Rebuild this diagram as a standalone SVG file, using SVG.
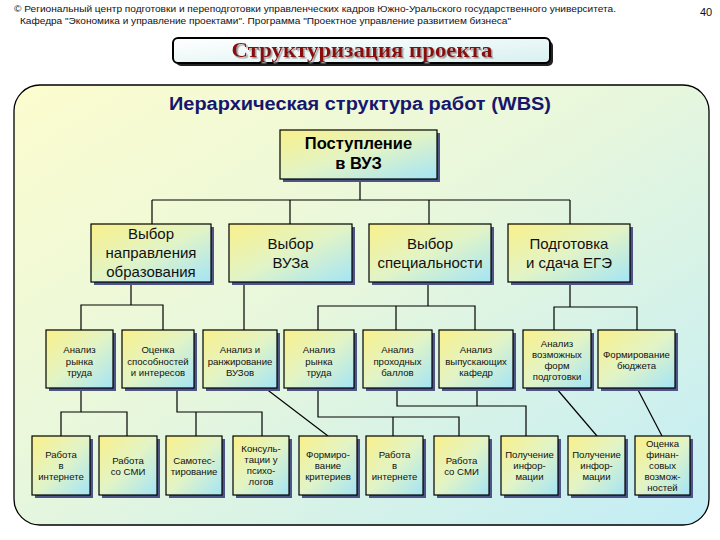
<svg xmlns="http://www.w3.org/2000/svg" width="720" height="540" viewBox="0 0 720 540">
<defs>
  <linearGradient id="pg" x1="0" y1="0" x2="1" y2="1">
    <stop offset="0" stop-color="#fcfcce"/>
    <stop offset="0.45" stop-color="#e8f7dc"/>
    <stop offset="1" stop-color="#c2edf6"/>
  </linearGradient>
  <linearGradient id="ng" x1="0" y1="0" x2="1" y2="1">
    <stop offset="0" stop-color="#f9f08a"/>
    <stop offset="0.5" stop-color="#e2f4c6"/>
    <stop offset="1" stop-color="#a4e4f6"/>
  </linearGradient>
  <linearGradient id="tg" x1="0" y1="0" x2="1" y2="1">
    <stop offset="0" stop-color="#ffffff"/>
    <stop offset="1" stop-color="#d8f0f0"/>
  </linearGradient>
  <filter id="ts" x="-5%" y="-20%" width="110%" height="150%">
    <feDropShadow dx="1.5" dy="1.5" stdDeviation="0.4" flood-color="#9a9a9a"/>
  </filter>
  <style>
    .hd{font-family:"Liberation Sans",Arial,sans-serif;font-size:9.5px;fill:#111}
    .bx{fill:url(#ng);stroke:#000;stroke-width:1.2}
    .sh{fill:#4c5488}
    .t1{font-family:"Liberation Sans",Arial,sans-serif;font-size:16.5px;font-weight:bold;fill:#000;text-anchor:middle}
    .t2{font-family:"Liberation Sans",Arial,sans-serif;font-size:15px;fill:#111;text-anchor:middle}
    .t3{font-family:"Liberation Sans",Arial,sans-serif;font-size:9.6px;fill:#111;text-anchor:middle}
    .cn line,.cn polyline{stroke:#000;stroke-width:1.2;fill:none}
  </style>
</defs>

<rect x="0" y="0" width="720" height="540" fill="#ffffff"/>

<g id="header">
  <text class="hd" x="14" y="12" textLength="602" lengthAdjust="spacingAndGlyphs">© Региональный центр подготовки и переподготовки управленческих кадров Южно-Уральского государственного университета.</text>
  <text class="hd" x="20" y="24" textLength="491" lengthAdjust="spacingAndGlyphs">Кафедра "Экономика и управление проектами". Программа "Проектное управление развитием бизнеса"</text>
  <text x="706" y="16" font-family="'Liberation Sans',Arial,sans-serif" font-size="11" fill="#111" text-anchor="middle">40</text>
</g>

<g id="title">
  <rect x="176" y="41" width="377" height="25" rx="5" fill="#222"/>
  <rect x="173" y="38" width="377" height="25" rx="5" fill="url(#tg)" stroke="#000" stroke-width="2"/>
  <text x="362" y="57" font-family="'Liberation Serif','Times New Roman',serif" font-size="21" font-weight="bold" fill="#8a0c0c" text-anchor="middle" textLength="261" lengthAdjust="spacingAndGlyphs" filter="url(#ts)">Структуризация проекта</text>
</g>

<g id="panel">
  <rect x="14" y="85" width="695" height="440" rx="26" fill="url(#pg)" stroke="#000" stroke-width="1.3"/>
  <text x="360" y="110" font-family="'Liberation Sans',Arial,sans-serif" font-size="17.5" font-weight="bold" fill="#16166e" text-anchor="middle" textLength="382" lengthAdjust="spacingAndGlyphs">Иерархическая структура работ (WBS)</text>
</g>

<g id="connectors" class="cn">
  <line x1="360" y1="179" x2="360" y2="200"/>
  <line x1="152" y1="200" x2="570" y2="200"/>
  <line x1="152" y1="200" x2="152" y2="224"/>
  <line x1="290" y1="200" x2="290" y2="224"/>
  <line x1="429" y1="200" x2="429" y2="224"/>
  <line x1="570" y1="200" x2="570" y2="224"/>

  <line x1="131" y1="282" x2="131" y2="305"/>
  <polyline points="81,330 81,305 163,305 163,330"/>
  <line x1="244" y1="282" x2="244" y2="330"/>
  <line x1="428" y1="282" x2="428" y2="306"/>
  <polyline points="318,330 318,306 475,306 475,330"/>
  <line x1="396" y1="306" x2="396" y2="330"/>
  <line x1="570" y1="282" x2="570" y2="307"/>
  <polyline points="554,330 554,307 637,307 637,330"/>

  <line x1="81" y1="388" x2="81" y2="412"/>
  <polyline points="61,436 61,412 127,412 127,436"/>
  <polyline points="177,388 177,412 262,412 262,436"/>
  <line x1="196" y1="412" x2="196" y2="436"/>
  <line x1="265" y1="388" x2="328" y2="436"/>
  <polyline points="318,388 318,417 459,417 459,436"/>
  <line x1="393" y1="417" x2="393" y2="436"/>
  <polyline points="397,388 397,406 526,406 526,436"/>
  <line x1="477" y1="388" x2="477" y2="406"/>
  <line x1="556" y1="388" x2="597" y2="436"/>
  <line x1="637" y1="388" x2="662" y2="436"/>
</g>

<g id="n0">
  <rect class="sh" x="283" y="133" width="157" height="49"/>
  <rect class="bx" x="280" y="130" width="157" height="49"/>
  <text class="t1" x="358.5" y="149">Поступление</text>
  <text class="t1" x="358.5" y="169">в ВУЗ</text>
</g>

<g id="n1">
  <rect class="sh" x="94" y="227" width="120" height="58"/>
  <rect class="bx" x="91" y="224" width="120" height="58"/>
  <text class="t2" x="151" y="239">Выбор</text>
  <text class="t2" x="151" y="258">направления</text>
  <text class="t2" x="151" y="277">образования</text>
</g>
<g id="n2">
  <rect class="sh" x="232" y="227" width="123" height="58"/>
  <rect class="bx" x="229" y="224" width="123" height="58"/>
  <text class="t2" x="290.5" y="249">Выбор</text>
  <text class="t2" x="290.5" y="268">ВУЗа</text>
</g>
<g id="n3">
  <rect class="sh" x="372" y="227" width="122" height="58"/>
  <rect class="bx" x="369" y="224" width="122" height="58"/>
  <text class="t2" x="430" y="249">Выбор</text>
  <text class="t2" x="430" y="268">специальности</text>
</g>
<g id="n4">
  <rect class="sh" x="511" y="227" width="122" height="58"/>
  <rect class="bx" x="508" y="224" width="122" height="58"/>
  <text class="t2" x="569" y="249">Подготовка</text>
  <text class="t2" x="569" y="268">и сдача ЕГЭ</text>
</g>

<g id="n1a">
  <rect class="sh" x="49" y="333" width="67" height="58"/>
  <rect class="bx" x="46" y="330" width="67" height="58"/>
  <text class="t3" x="79.5" y="353">Анализ</text>
  <text class="t3" x="79.5" y="364.5">рынка</text>
  <text class="t3" x="79.5" y="376">труда</text>
</g>
<g id="n1b">
  <rect class="sh" x="125" y="333" width="72" height="58"/>
  <rect class="bx" x="122" y="330" width="72" height="58"/>
  <text class="t3" x="158" y="353">Оценка</text>
  <text class="t3" x="158" y="364.5">способностей</text>
  <text class="t3" x="158" y="376">и интересов</text>
</g>
<g id="n2a">
  <rect class="sh" x="206" y="333" width="74" height="58"/>
  <rect class="bx" x="203" y="330" width="74" height="58"/>
  <text class="t3" x="240" y="353">Анализ и</text>
  <text class="t3" x="240" y="364.5">ранжирование</text>
  <text class="t3" x="240" y="376">ВУЗов</text>
</g>
<g id="n3a">
  <rect class="sh" x="287" y="333" width="70" height="58"/>
  <rect class="bx" x="284" y="330" width="70" height="58"/>
  <text class="t3" x="319" y="353">Анализ</text>
  <text class="t3" x="319" y="364.5">рынка</text>
  <text class="t3" x="319" y="376">труда</text>
</g>
<g id="n3b">
  <rect class="sh" x="366" y="333" width="69" height="58"/>
  <rect class="bx" x="363" y="330" width="69" height="58"/>
  <text class="t3" x="397.5" y="353">Анализ</text>
  <text class="t3" x="397.5" y="364.5">проходных</text>
  <text class="t3" x="397.5" y="376">баллов</text>
</g>
<g id="n3c">
  <rect class="sh" x="442" y="333" width="74" height="58"/>
  <rect class="bx" x="439" y="330" width="74" height="58"/>
  <text class="t3" x="476" y="353">Анализ</text>
  <text class="t3" x="476" y="364.5">выпускающих</text>
  <text class="t3" x="476" y="376">кафедр</text>
</g>
<g id="n4a">
  <rect class="sh" x="526" y="333" width="68" height="58"/>
  <rect class="bx" x="523" y="330" width="68" height="58"/>
  <text class="t3" x="557" y="347">Анализ</text>
  <text class="t3" x="557" y="358">возможных</text>
  <text class="t3" x="557" y="369">форм</text>
  <text class="t3" x="557" y="380">подготовки</text>
</g>
<g id="n4b">
  <rect class="sh" x="601" y="333" width="77" height="58"/>
  <rect class="bx" x="598" y="330" width="77" height="58"/>
  <text class="t3" x="636.5" y="358">Формирование</text>
  <text class="t3" x="636.5" y="369">бюджета</text>
</g>

<g id="m1">
  <rect class="sh" x="35" y="439" width="58" height="59"/>
  <rect class="bx" x="32" y="436" width="58" height="59"/>
  <text class="t3" x="61" y="458">Работа</text>
  <text class="t3" x="61" y="469">в</text>
  <text class="t3" x="61" y="480">интернете</text>
</g>
<g id="m2">
  <rect class="sh" x="102" y="439" width="58" height="59"/>
  <rect class="bx" x="99" y="436" width="58" height="59"/>
  <text class="t3" x="128" y="463.5">Работа</text>
  <text class="t3" x="128" y="474.5">со СМИ</text>
</g>
<g id="m3">
  <rect class="sh" x="169" y="439" width="56" height="59"/>
  <rect class="bx" x="166" y="436" width="56" height="59"/>
  <text class="t3" x="194" y="463.5">Самотес-</text>
  <text class="t3" x="194" y="474.5">тирование</text>
</g>
<g id="m4">
  <rect class="sh" x="236" y="439" width="56" height="59"/>
  <rect class="bx" x="233" y="436" width="56" height="59"/>
  <text class="t3" x="261" y="452">Консуль-</text>
  <text class="t3" x="261" y="463">тации у</text>
  <text class="t3" x="261" y="474">психо-</text>
  <text class="t3" x="261" y="485">логов</text>
</g>
<g id="m5">
  <rect class="sh" x="302" y="439" width="58" height="59"/>
  <rect class="bx" x="299" y="436" width="58" height="59"/>
  <text class="t3" x="328" y="458">Формиро-</text>
  <text class="t3" x="328" y="469">вание</text>
  <text class="t3" x="328" y="480">критериев</text>
</g>
<g id="m6">
  <rect class="sh" x="369" y="439" width="57" height="59"/>
  <rect class="bx" x="366" y="436" width="57" height="59"/>
  <text class="t3" x="394.5" y="458">Работа</text>
  <text class="t3" x="394.5" y="469">в</text>
  <text class="t3" x="394.5" y="480">интернете</text>
</g>
<g id="m7">
  <rect class="sh" x="437" y="439" width="55" height="59"/>
  <rect class="bx" x="434" y="436" width="55" height="59"/>
  <text class="t3" x="461.5" y="463.5">Работа</text>
  <text class="t3" x="461.5" y="474.5">со СМИ</text>
</g>
<g id="m8">
  <rect class="sh" x="504" y="439" width="57" height="59"/>
  <rect class="bx" x="501" y="436" width="57" height="59"/>
  <text class="t3" x="529.5" y="458">Получение</text>
  <text class="t3" x="529.5" y="469">инфор-</text>
  <text class="t3" x="529.5" y="480">мации</text>
</g>
<g id="m9">
  <rect class="sh" x="571" y="439" width="57" height="59"/>
  <rect class="bx" x="568" y="436" width="57" height="59"/>
  <text class="t3" x="596.5" y="458">Получение</text>
  <text class="t3" x="596.5" y="469">инфор-</text>
  <text class="t3" x="596.5" y="480">мации</text>
</g>
<g id="m10">
  <rect class="sh" x="638" y="439" width="55" height="59"/>
  <rect class="bx" x="635" y="436" width="55" height="59"/>
  <text class="t3" x="662.5" y="447">Оценка</text>
  <text class="t3" x="662.5" y="458">финан-</text>
  <text class="t3" x="662.5" y="469">совых</text>
  <text class="t3" x="662.5" y="480">возмож-</text>
  <text class="t3" x="662.5" y="491">ностей</text>
</g>
</svg>
